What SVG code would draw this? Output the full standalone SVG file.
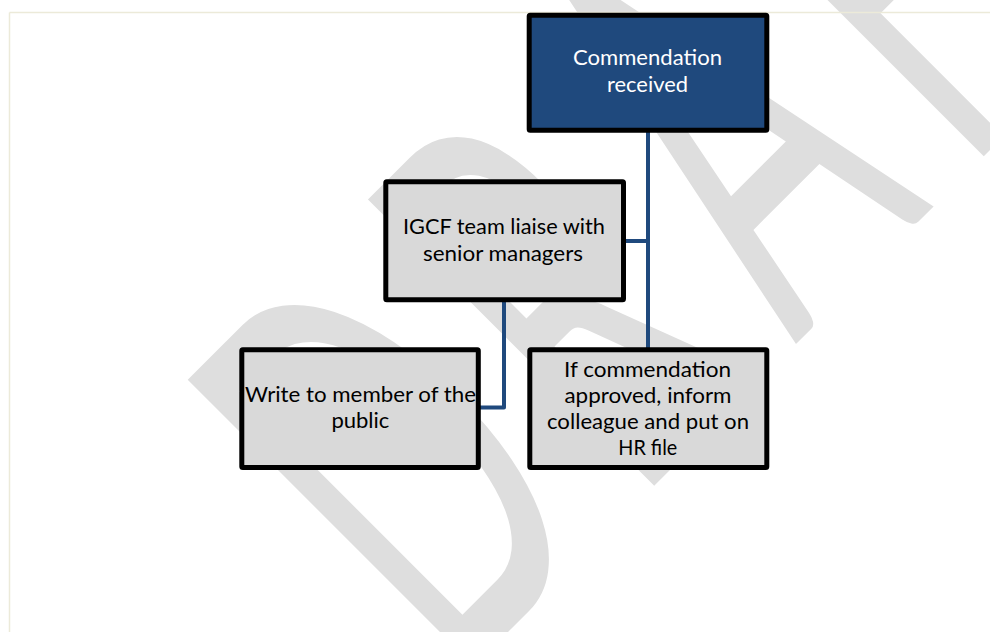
<svg xmlns="http://www.w3.org/2000/svg" width="990" height="632" viewBox="0 0 990 632">
<style>
.box{fill:#d9d9d9;stroke:#000;stroke-width:5}
.top{fill:#1f497d;stroke:#000;stroke-width:5}
.t{font-family:Lato,"Liberation Sans",sans-serif;font-size:21px;text-anchor:middle;fill:#000}
.w{fill:#fff}
.conn{fill:none;stroke:#1f497d;stroke-width:4;stroke-linejoin:round}
.wm{font-family:Lato,"Liberation Sans",sans-serif;font-size:100px;fill:#dedede}
</style>
<rect width="990" height="632" fill="#fff"/>
<g id="watermark"><text class="wm" transform="translate(455.2,684.8) rotate(-45) scale(2.9,5.65)" x="0 87.9 165.9 248.6 314.1" y="0">DRAFT</text></g>
<g id="frame" fill="none" stroke="#ecead9" stroke-width="1.5"><line x1="9.5" y1="12.5" x2="990" y2="12.5"/><line x1="9.5" y1="12.5" x2="9.5" y2="632"/></g>
<g id="connectors">
<path class="conn" d="M648 132 V349 M626 241 H648"/>
<path class="conn" d="M504 302 V407.5 H480"/>
</g>
<g id="node-received">
<rect class="top" x="529.2" y="15.2" width="237.6" height="115" rx="1"/>
<text class="t w" x="647.5" y="65" textLength="149" lengthAdjust="spacingAndGlyphs">Commendation</text>
<text class="t w" x="647.5" y="91.5" textLength="81" lengthAdjust="spacingAndGlyphs">received</text>
</g>
<g id="node-liaise">
<rect class="box" x="385.8" y="181.7" width="237.7" height="118" rx="1"/>
<text class="t" x="504" y="234" textLength="202" lengthAdjust="spacingAndGlyphs">IGCF team liaise with</text>
<text class="t" x="503" y="260.5" textLength="160" lengthAdjust="spacingAndGlyphs">senior managers</text>
</g>
<g id="node-write">
<rect class="box" x="241.8" y="349.8" width="236.5" height="117.7" rx="1"/>
<text class="t" x="360.5" y="402" textLength="231" lengthAdjust="spacingAndGlyphs">Write to member of the</text>
<text class="t" x="360.4" y="427.5" textLength="58" lengthAdjust="spacingAndGlyphs">public</text>
</g>
<g id="node-approved">
<rect class="box" x="529.8" y="349.8" width="237" height="117.7" rx="1"/>
<text class="t" x="647.5" y="377" textLength="167" lengthAdjust="spacingAndGlyphs">If commendation</text>
<text class="t" x="648" y="403" textLength="167" lengthAdjust="spacingAndGlyphs">approved, inform</text>
<text class="t" x="648" y="429" textLength="202" lengthAdjust="spacingAndGlyphs">colleague and put on</text>
<text class="t" x="647.8" y="455" textLength="59" lengthAdjust="spacingAndGlyphs">HR file</text>
</g>
</svg>
